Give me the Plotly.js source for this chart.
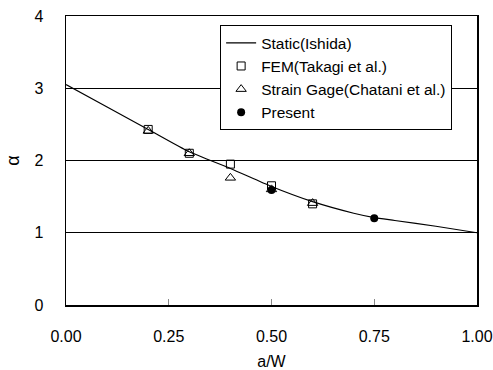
<!DOCTYPE html>
<html>
<head>
<meta charset="utf-8">
<script src="https://cdn.plot.ly/plotly-3.0.1.min.js"></script>
<style>html,body{margin:0;padding:0;background:#fff;}#chart{width:493px;height:370px;}</style>
</head>
<body>
<div id="chart"></div>
<script>
// Static (Ishida) curve
const staticX = [0, 0.1, 0.2, 0.3, 0.4, 0.5, 0.6, 0.7, 0.75, 0.8, 0.9, 1.0];
const staticY = [3.05, 2.74, 2.43, 2.12, 1.89, 1.64, 1.43, 1.27, 1.21, 1.17, 1.09, 1.0];
// FEM (Takagi et al.)
const femX = [0.2, 0.3, 0.4, 0.5, 0.6];
const femY = [2.43, 2.10, 1.95, 1.65, 1.40];
// Strain Gage (Chatani et al.)
const sgX = [0.2, 0.3, 0.4, 0.5, 0.6];
const sgY = [2.41, 2.10, 1.76, 1.60, 1.41];
// Present
const presX = [0.5, 0.75];
const presY = [1.59, 1.20];
const xTicks = [0, 0.25, 0.5, 0.75, 1.0];
const xTickText = ['0.00', '0.25', '0.50', '0.75', '1.00'];
const yTicks = [0, 1, 2, 3, 4];

const font = 'Liberation Sans, Arial, sans-serif';
const traces = [
  {x: staticX, y: staticY, mode: 'lines', name: 'Static(Ishida)',
   line: {color: '#000', width: 1.2, shape: 'spline', smoothing: 0.6}},
  {x: femX, y: femY, mode: 'markers', name: 'FEM(Takagi et al.)',
   marker: {symbol: 'square-open', size: 8, color: '#000', line: {width: 1}}},
  {x: sgX, y: sgY, mode: 'markers', name: 'Strain Gage(Chatani et al.)',
   marker: {symbol: 'triangle-up-open', size: 9, color: '#000', line: {width: 1}}},
  {x: presX, y: presY, mode: 'markers', name: 'Present',
   marker: {symbol: 'circle', size: 8, color: '#000'}}
];
const layout = {
  width: 493, height: 370,
  margin: {l: 66, r: 16, t: 16, b: 65},
  paper_bgcolor: '#fff', plot_bgcolor: '#fff',
  font: {family: font, size: 16, color: '#000'},
  showlegend: true,
  legend: {x: 0.375, y: 0.968, xanchor: 'left', yanchor: 'top',
    bgcolor: '#fff', bordercolor: '#000', borderwidth: 1,
    font: {family: font, size: 15.5, color: '#000'}, tracegroupgap: 0},
  xaxis: {range: [0, 1], tickvals: xTicks, ticktext: xTickText,
    showgrid: false, zeroline: false, showline: true, mirror: true,
    linecolor: '#000', linewidth: 1.5, ticks: 'inside', ticklen: 6, tickcolor: '#888',
    ticklabelstandoff: 16, tickfont: {size: 16},
    title: {text: 'a/W', font: {size: 16}, standoff: 14}},
  yaxis: {range: [0, 4], tickvals: yTicks, showgrid: true, gridcolor: '#000', gridwidth: 1,
    zeroline: false, showline: true, mirror: true, linecolor: '#000', linewidth: 1.5,
    ticks: '', ticklabelstandoff: 18, tickfont: {size: 16},
    title: {text: 'α', font: {size: 18}, standoff: 10}}
};
Plotly.newPlot('chart', traces, layout, {displayModeBar: false, staticPlot: true});
</script>
</body>
</html>
